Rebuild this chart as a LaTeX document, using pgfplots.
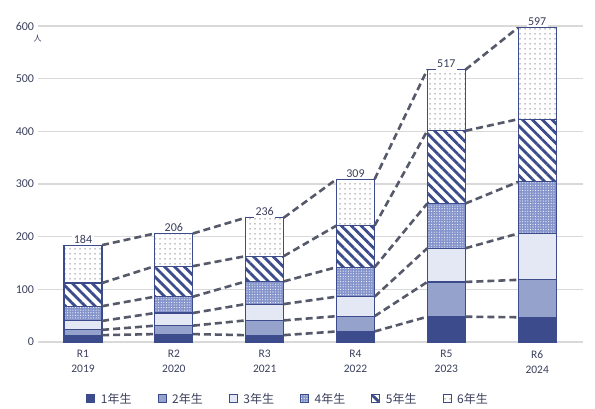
\documentclass[border=0pt]{standalone}
\usepackage{fontspec}
\setmainfont{Carlito}
\newfontfamily\jp{Noto Sans CJK JP}
\usepackage{pgfplots}
\pgfplotsset{compat=1.18}
\usetikzlibrary{patterns,patterns.meta}

\definecolor{navy}{HTML}{3B4B8B}
\definecolor{g2}{HTML}{95A2CC}
\definecolor{g3}{HTML}{E4E7F4}
\definecolor{g4}{HTML}{8595CC}
\definecolor{dotg}{HTML}{8A8A8A}
\definecolor{dashc}{HTML}{55596A}
\definecolor{txt}{HTML}{3A3F5C}
\definecolor{gridc}{HTML}{D9D9D9}

\pgfplotsset{
  common/.style={
    scale only axis, width=545pt, height=316pt,
    xmin=-0.5, xmax=5.5, ymin=0, ymax=600,
    clip=false,
    /pgf/number format/assume math mode=true,
  },
  seg/.style={draw=navy, line width=1.1pt},
  conn/.style={dashc, line width=2.6pt, dash pattern=on 7pt off 4pt, no markers},
}

\begin{document}
\begin{tikzpicture}
\path[use as bounding box] (-37.6pt,-67pt) rectangle (557.4pt,342pt);

% bars
\begin{axis}[common,
  ybar stacked, bar width=38pt,
  axis line style={draw=none}, tick style={draw=none},
  ytick={0,100,...,600}, ymajorgrids, grid style={gridc, line width=1.2pt},
  xtick={0,...,5},
  xticklabels={{R1\\2019},{R2\\2020},{R3\\2021},{R4\\2022},{R5\\2023},{R6\\2024}},
  xticklabel style={align=center, font=\fontsize{11.5}{15}\selectfont, text=txt, yshift=-5pt},
  yticklabel style={font=\fontsize{12}{12}\selectfont, text=txt},
  legend columns=6,
  legend style={at={(0.089,-0.18)}, anchor=west, draw=none, fill=none, inner sep=0pt,
    font=\jp\fontsize{12}{12}\selectfont, text=txt,
    /tikz/every even column/.append style={column sep=24pt}},
  legend image code/.code={\draw[#1] (0.5pt,-4pt) rectangle (8.5pt,4pt); \path (12pt,0pt);},
]
\addplot[seg, fill=navy] coordinates {(0,13) (1,15) (2,13) (3,20) (4,48) (5,47)};
\addplot[seg, fill=g2] coordinates {(0,10) (1,16) (2,28) (3,29) (4,66) (5,71)};
\addplot[seg, fill=g3] coordinates {(0,17) (1,24) (2,31) (3,37) (4,64) (5,88)};
\addplot[seg, fill=g4, postaction={pattern={Dots[distance=2.6pt,radius=0.55pt]}, pattern color=white}]
  coordinates {(0,28) (1,31) (2,43) (3,56) (4,85) (5,98)};
\addplot[seg, fill=white, postaction={pattern={Lines[angle=-45,distance=7pt,line width=2.8pt]}, pattern color=navy}]
  coordinates {(0,44) (1,58) (2,48) (3,79) (4,138) (5,119)};
\addplot[seg, fill=white, postaction={pattern={Dots[distance=5pt,radius=0.75pt]}, pattern color=dotg}]
  coordinates {(0,72) (1,62) (2,73) (3,88) (4,116) (5,174)};
\legend{1年生,2年生,3年生,4年生,5年生,6年生}
\end{axis}

% dashed connectors between the bars, totals, unit
\begin{axis}[common, hide axis, unbounded coords=jump]
\addplot[conn] coordinates {(0.21,13) (0.79,15) (1,nan) (1.21,15) (1.79,13) (2,nan) (2.21,13) (2.79,20) (3,nan) (3.21,20) (3.79,48) (4,nan) (4.21,48) (4.79,47)};
\addplot[conn] coordinates {(0.21,23) (0.79,31) (1,nan) (1.21,31) (1.79,41) (2,nan) (2.21,41) (2.79,49) (3,nan) (3.21,49) (3.79,114) (4,nan) (4.21,114) (4.79,118)};
\addplot[conn] coordinates {(0.21,40) (0.79,55) (1,nan) (1.21,55) (1.79,72) (2,nan) (2.21,72) (2.79,86) (3,nan) (3.21,86) (3.79,178) (4,nan) (4.21,178) (4.79,206)};
\addplot[conn] coordinates {(0.21,68) (0.79,86) (1,nan) (1.21,86) (1.79,115) (2,nan) (2.21,115) (2.79,142) (3,nan) (3.21,142) (3.79,263) (4,nan) (4.21,263) (4.79,304)};
\addplot[conn] coordinates {(0.21,112) (0.79,144) (1,nan) (1.21,144) (1.79,163) (2,nan) (2.21,163) (2.79,221) (3,nan) (3.21,221) (3.79,401) (4,nan) (4.21,401) (4.79,423)};
\addplot[conn] coordinates {(0.21,184) (0.79,206) (1,nan) (1.21,206) (1.79,236) (2,nan) (2.21,236) (2.79,309) (3,nan) (3.21,309) (3.79,517) (4,nan) (4.21,517) (4.79,597)};
% totals above the bars
\addplot[draw=none, no markers, point meta=explicit, nodes near coords,
  every node near coord/.append style={anchor=south, font=\fontsize{12}{12}\selectfont, text=txt, fill=white, inner sep=1.5pt}]
  coordinates {(0,184) [184] (1,206) [206] (2,236) [236] (3,309) [309] (4,517) [517] (5,597) [597]};
\node[font=\jp\fontsize{8}{8}\selectfont, text=txt, anchor=center, yshift=-13pt] at (axis cs:-0.5,600) {人};
\end{axis}
\end{tikzpicture}
\end{document}
